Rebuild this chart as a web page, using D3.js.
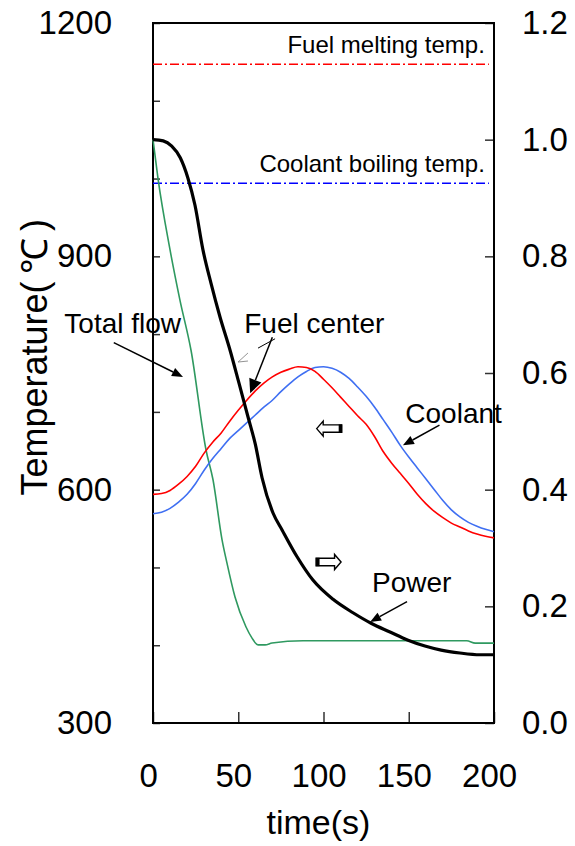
<!DOCTYPE html>
<html>
<head>
<meta charset="utf-8">
<title>Temperature and power transient</title>
<script src="https://d3js.org/d3.v7.min.js"></script>
<style>
  body { margin: 0; background: #fff; }
  text { font-family: "Liberation Sans", Arial, sans-serif; fill: #000; }
</style>
</head>
<body>
<div id="chart"></div>
<script>
// time grid for the two temperature curves (s)
const tempTime = [0, 5, 10, 15, 20, 25, 30, 35, 40, 45, 50, 55, 60, 65, 70, 75, 80, 85, 90, 95, 100,
  105, 110, 115, 120, 125, 130, 135, 140, 145, 150, 155, 160, 165, 170, 175, 180, 185, 190, 195, 200];
// fuel center temperature (C)
const fuelCenter = [594, 595, 599, 607, 617, 630, 647, 661, 673, 688, 702, 715, 727, 737, 745, 751, 755, 758, 757, 752, 742,
  731, 719, 707, 695, 684, 668, 649, 634, 621, 608, 594, 582, 572, 564, 557, 552, 547, 543, 540, 538];
// coolant temperature (C)
const coolant = [569, 571, 576, 584, 594, 608, 625, 640, 653, 666, 676, 686, 696, 706, 715, 726, 736, 745, 752, 757, 758,
  756, 751, 743, 732, 720, 706, 690, 674, 657, 642, 628, 614, 600, 586, 574, 565, 558, 553, 549, 546];

// relative power (right axis)
const powerTime = [0, 6, 11, 16, 20.5, 24.6, 29.3, 34, 39.3, 45.2, 50.4, 55.7, 60, 64, 70.4, 75.7, 84.5, 93.8,
  105.6, 117.3, 127.9, 139, 149.6, 159.5, 169, 180, 191.8, 200];
const power = [1.0, 0.998, 0.989, 0.969, 0.934, 0.888, 0.811, 0.754, 0.696, 0.639, 0.583, 0.525, 0.478, 0.42, 0.36, 0.331, 0.285, 0.245,
  0.212, 0.189, 0.171, 0.156, 0.142, 0.132, 0.125, 0.12, 0.117, 0.117];

// relative total flow (right axis)
const flowTime = [0, 2.9, 10, 15.8, 22.3, 31.1, 35.2, 40.5, 43.4, 48.1, 54.5, 58, 61.6, 65.7, 69.8, 88, 184, 189, 200];
const flow = [1.0, 0.934, 0.811, 0.725, 0.639, 0.468, 0.417, 0.314, 0.274, 0.216, 0.165, 0.146, 0.134, 0.134, 0.137, 0.141, 0.141, 0.137, 0.137];

// limit lines
const limitNames = ["Fuel melting temp.", "Coolant boiling temp."];
const limitTemp = [1147, 994];
const limitEnd = 197;

// ticks
const xTicks = [0, 50, 100, 150, 200];
const tempTicks = [300, 400, 500, 600, 700, 800, 900, 1000, 1100, 1200];
const tempLabels = [300, 600, 900, 1200];
const rightTicks = [0, 0.2, 0.4, 0.6, 0.8, 1.0, 1.2];

// annotations (time, temperature)
const noteText = ["Total flow", "Fuel center", "Coolant", "Power"];
const noteT = [-52, 53.5, 148, 128.5];
const noteTemp = [801, 801, 686, 468];
const arrowFrom = [[-23, 789], [70, 796], [168, 683], [149, 456]];
const arrowTo = [[17.6, 745], [57, 724], [146.6, 657], [127.3, 430]];
const hollowTip = [[96, 678.5], [110.3, 507]];
const hollowDir = [-1, 1];

const W = 575, H = 846;
const svg = d3.select("#chart").append("svg")
  .attr("width", W).attr("height", H);

const x = d3.scaleLinear().domain([0, 200]).range([153, 494]);
const yT = d3.scaleLinear().domain([300, 1200]).range([723, 23]);
const yR = d3.scaleLinear().domain([0, 1.2]).range([723, 23]);

// axes
const left = svg.append("g").attr("transform", `translate(${x(0)},0)`)
  .call(d3.axisLeft(yT).tickValues(tempTicks).tickSizeInner(-7).tickSizeOuter(0).tickPadding(41)
    .tickFormat(d => tempLabels.includes(d) ? d : ""));
const right = svg.append("g").attr("transform", `translate(${x(200)},0)`)
  .call(d3.axisRight(yR).tickValues(rightTicks).tickSizeInner(-9).tickSizeOuter(0).tickPadding(28)
    .tickFormat(d3.format(".1f")));
const bottom = svg.append("g").attr("transform", `translate(0,${yT(300)})`)
  .call(d3.axisBottom(x).tickValues(xTicks).tickSizeInner(-11).tickSizeOuter(0).tickPadding(41));
bottom.selectAll("text").attr("dx", "-0.15em");

[left, right, bottom].forEach(g => {
  g.select(".domain").remove();
  g.selectAll(".tick line").attr("stroke", "#333").attr("stroke-width", 1.5);
  g.selectAll("text").style("font-size", "33px").style("font-family", "'Liberation Sans', Arial, sans-serif");
});

// frame
svg.append("rect")
  .attr("x", x(0)).attr("y", yT(1200))
  .attr("width", x(200) - x(0)).attr("height", yT(300) - yT(1200))
  .attr("fill", "none").attr("stroke", "#000").attr("stroke-width", 2);

// axis titles
svg.append("text")
  .attr("x", (x(0) + x(200)) / 2 - 5).attr("y", 834)
  .attr("text-anchor", "middle").style("font-size", "34px")
  .text("time(s)");
svg.append("text")
  .attr("transform", `translate(47,${yT(900) + 101}) rotate(-90)`)
  .attr("text-anchor", "middle").style("font-size", "36px")
  .text("Temperature(\u2009℃\u2009)");

// limit lines
const limitColor = ["#ff0000", "#0000ff"];
limitTemp.forEach((v, i) => {
  svg.append("line")
    .attr("x1", x(0)).attr("x2", x(limitEnd))
    .attr("y1", yT(v)).attr("y2", yT(v))
    .attr("stroke", limitColor[i]).attr("stroke-width", 1.5)
    .attr("stroke-dasharray", "9,3,2,3");
  svg.append("text")
    .attr("x", x(limitEnd) - 4).attr("y", yT(v) - 11)
    .attr("text-anchor", "end").style("font-size", "24px")
    .text(limitNames[i]);
});

// curves
const lineT = (ts, vs) => d3.line().x((d, i) => x(ts[i])).y(d => yT(d)).curve(d3.curveMonotoneX)(vs);
const lineR = (ts, vs) => d3.line().x((d, i) => x(ts[i])).y(d => yR(d)).curve(d3.curveMonotoneX)(vs);

svg.append("path").attr("d", lineR(flowTime, flow))
  .attr("fill", "none").attr("stroke", "#2f9960").attr("stroke-width", 1.6);
svg.append("path").attr("d", lineT(tempTime, coolant))
  .attr("fill", "none").attr("stroke", "#3f6ff2").attr("stroke-width", 1.6);
svg.append("path").attr("d", lineT(tempTime, fuelCenter))
  .attr("fill", "none").attr("stroke", "#ff0000").attr("stroke-width", 1.6);
svg.append("path").attr("d", lineR(powerTime, power))
  .attr("fill", "none").attr("stroke", "#000").attr("stroke-width", 3.2)
  .attr("stroke-linejoin", "round");

// annotation labels
noteText.forEach((s, i) => {
  svg.append("text")
    .attr("x", x(noteT[i])).attr("y", yT(noteTemp[i]))
    .style("font-size", "28px")
    .text(s);
});

// arrows with filled heads
function arrow(p0, p1, len, half) {
  const x0 = x(p0[0]), y0 = yT(p0[1]), x1 = x(p1[0]), y1 = yT(p1[1]);
  const a = Math.atan2(y1 - y0, x1 - x0);
  const bx = x1 - len * Math.cos(a), by = y1 - len * Math.sin(a);
  svg.append("line").attr("x1", x0).attr("y1", y0).attr("x2", bx).attr("y2", by)
    .attr("stroke", "#000").attr("stroke-width", 1.5);
  const px = -Math.sin(a) * half, py = Math.cos(a) * half;
  svg.append("path")
    .attr("d", `M${x1},${y1}L${bx + px},${by + py}L${bx - px},${by - py}Z`)
    .attr("fill", "#000");
}
arrowFrom.forEach((p, i) => arrow(p, arrowTo[i], i === 1 ? 14 : 11, i === 1 ? 6.5 : 4.5));

// small extra strokes near the fuel center arrow
svg.append("line")
  .attr("x1", x(61.6)).attr("y1", yT(782)).attr("x2", x(71.6)).attr("y2", yT(794))
  .attr("stroke", "#000").attr("stroke-width", 1);
svg.append("path")
  .attr("d", `M${x(55.7)},${yT(775.7)}L${x(49.9)},${yT(764.1)}L${x(55.7)},${yT(765.4)}`)
  .attr("fill", "none").attr("stroke", "#777").attr("stroke-width", 0.8);

// hollow block arrows
hollowTip.forEach((p, i) => {
  const d = hollowDir[i];
  const tx = x(p[0]), ty = yT(p[1]);
  const head = 6.5, len = 25, hh = 7.5, sh = 3.7;
  const pts = [[0, 0], [head, -hh], [head, -sh], [len, -sh], [len, sh], [head, sh], [head, hh]];
  svg.append("path")
    .attr("d", "M" + pts.map(q => `${tx - d * q[0]},${ty + q[1]}`).join("L") + "Z")
    .attr("fill", "#fff").attr("stroke", "#000").attr("stroke-width", 1.4);
  const bx = d < 0 ? tx + len - 3 : tx - len;
  svg.append("rect")
    .attr("x", bx).attr("y", ty - sh - 0.5)
    .attr("width", 3.5).attr("height", 2 * sh + 1)
    .attr("fill", "#000");
});
</script>
</body>
</html>
